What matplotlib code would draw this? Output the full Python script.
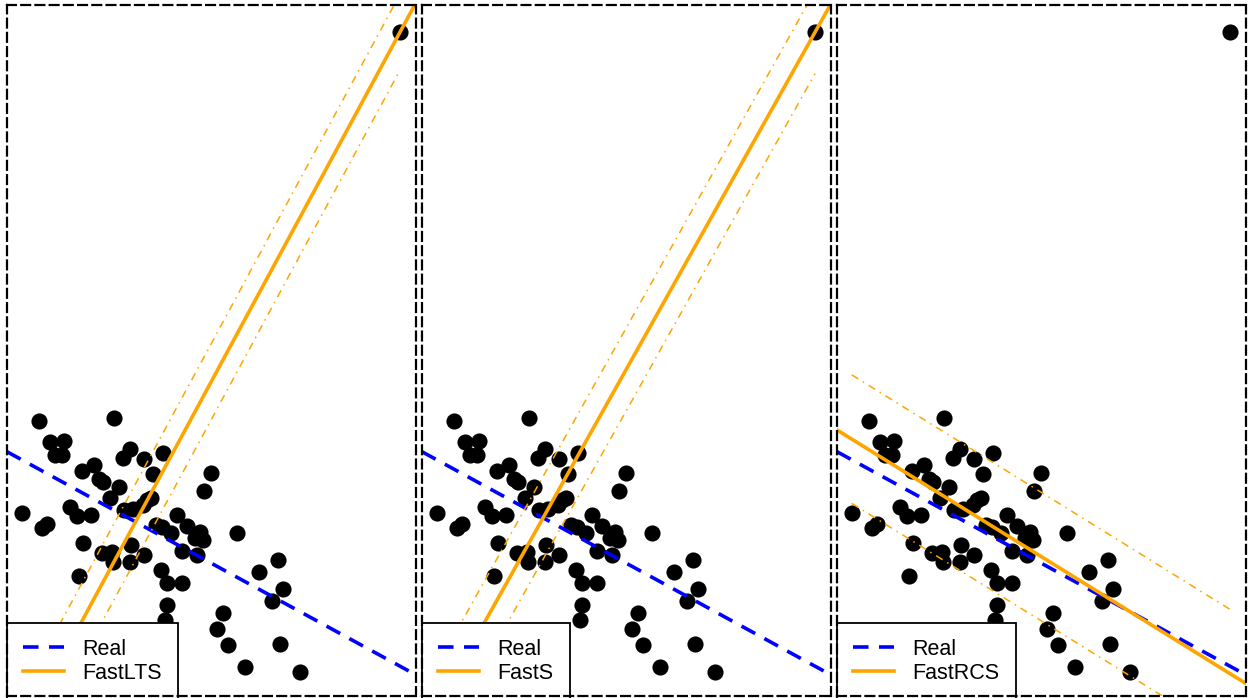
import numpy as np
import matplotlib
matplotlib.use("Agg")
import matplotlib.pyplot as plt

plt.rcParams["font.family"] = ["Liberation Sans", "DejaVu Sans"]

# observaciones (la ultima es el punto atipico)
x_pts = [0.79, 2.62, 1.05, 1.40, 1.17, 1.34, 3.01, 2.84, 3.35, 3.82,
         2.13, 1.83, 3.58, 4.98, 2.26, 2.35, 2.75, 4.82, 2.52, 3.42,
         3.51, 1.54, 0.36, 1.72, 2.05, 2.86, 3.07, 3.32, 4.15, 0.97,
         0.85, 3.64, 3.78, 4.00, 4.41, 4.72, 5.62, 4.60, 4.78, 1.85,
         3.02, 2.32, 2.56, 2.60, 3.01, 3.35, 4.27, 4.64, 6.63, 6.17,
         1.77, 3.77, 3.90, 4.27, 6.76, 6.47, 3.90, 5.27, 5.13, 5.41,
         6.67, 5.82, 7.16, 3.86, 9.61]
y_pts = [3.98, 4.02, 3.68, 3.69, 3.49, 3.49, 3.57, 3.44, 3.43, 3.51,
         3.35, 3.26, 3.21, 3.22, 3.14, 3.10, 3.02, 2.96, 2.86, 2.84,
         2.86, 2.74, 2.65, 2.60, 2.62, 2.69, 2.70, 2.76, 2.62, 2.49,
         2.43, 2.47, 2.45, 2.36, 2.46, 2.38, 2.36, 2.28, 2.26, 2.22,
         2.19, 2.07, 2.09, 1.94, 1.94, 2.04, 2.10, 2.04, 1.97, 1.79,
         1.74, 1.83, 1.63, 1.64, 1.55, 1.37, 1.31, 1.20, 0.97, 0.74,
         0.75, 0.42, 0.35, 1.10, 9.61]

# recta real
real_intercept, real_slope = 3.535, -0.323

# ajustes robustos: nombre, ordenada, pendiente, semiancho de la banda
methods = ["FastLTS", "FastS", "FastRCS"]
fit_intercepts = [-0.924, -0.551, 3.85]
fit_slopes = [1.096, 1.057, -0.367]
band_widths = [0.55, 0.60, 0.93]

fig, axes = plt.subplots(1, 3, figsize=(12.53, 6.98), dpi=100)
fig.subplots_adjust(left=7 / 1253, right=1246 / 1253, top=1 - 5 / 698,
                    bottom=1 - 696 / 698, wspace=6 / 409)

x_arr = np.array(x_pts)
xb = np.array([x_arr.min(), x_arr.max()])

for ax, name, b, m, w in zip(axes, methods, fit_intercepts, fit_slopes, band_widths):
    ax.scatter(x_pts, y_pts, s=135, color="black", linewidths=0, zorder=2.0)
    ax.axline((0, real_intercept), slope=real_slope, color="blue", lw=2.6,
              linestyle=(0, (4.3, 2.9)), label="Real", zorder=2.2)
    ax.axline((0, b), slope=m, color="orange", lw=2.6, label=name, zorder=2.2)
    for sgn in (1, -1):
        ax.plot(xb, b + m * xb + sgn * w, color="orange", lw=1.1,
                linestyle=(0, (5, 3.5, 1, 3.5)), zorder=2.2)

    ax.set_xlim(0, 10)
    ax.set_ylim(0, 10)
    ax.set_xticks([])
    ax.set_yticks([])
    for sp in ax.spines.values():
        sp.set_linestyle((0, (4, 2.4)))
        sp.set_linewidth(1.6)

    leg = ax.legend(loc="lower left", bbox_to_anchor=(0, -0.006),
                    borderaxespad=0, fontsize=15.5,
                    fancybox=False, framealpha=1, edgecolor="black",
                    handlelength=1.9, handletextpad=0.85, labelspacing=0.15,
                    borderpad=0.75)
    leg.get_frame().set_linewidth(1.3)
    leg.set_zorder(2.4)

fig.savefig("out.png", dpi=100)
